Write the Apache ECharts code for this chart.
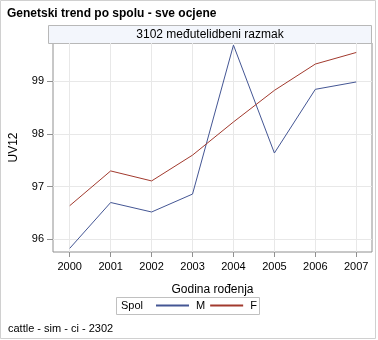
<!DOCTYPE html>
<html>
<head>
<meta charset="utf-8">
<script src="https://cdn.jsdelivr.net/npm/echarts@6/dist/echarts.min.js"></script>
<style>
html,body{margin:0;padding:0;background:#fff;}
#chart{width:378px;height:340px;}
</style>
</head>
<body>
<div id="chart"></div>
<script>
var years = [2000, 2001, 2002, 2003, 2004, 2005, 2006, 2007];
var valuesM = [95.83, 96.70, 96.52, 96.86, 99.69, 97.64, 98.85, 98.99];
var valuesF = [96.64, 97.30, 97.11, 97.60, 98.23, 98.83, 99.33, 99.55];
var yTicks = [96, 97, 98, 99];

var FONT = '"Liberation Sans", Arial, sans-serif';
function pairs(vals) { return years.map(function (y, i) { return [y, vals[i]]; }); }

var chart = echarts.init(document.getElementById('chart'), null, {renderer: 'canvas'});
chart.setOption({
  animation: false,
  backgroundColor: '#ffffff',
  color: ['#445694', '#A23A2E'],
  textStyle: {fontFamily: FONT},
  title: {
    text: 'Genetski trend po spolu - sve ocjene',
    left: 2, top: 3,
    textStyle: {fontFamily: FONT, fontSize: 12, fontWeight: 'bold', color: '#000'}
  },
  graphic: [
    {type: 'rect', shape: {x: 0.5, y: 0.5, width: 375, height: 338}, style: {fill: 'none', stroke: '#d0d0d0', lineWidth: 1}, silent: true, z: -10},
    {type: 'rect', shape: {x: 48.5, y: 25.5, width: 323, height: 18}, style: {fill: '#f3f6fc', stroke: '#b8b8b8', lineWidth: 1}, silent: true},
    {type: 'text', x: 210, y: 34.5, style: {text: '3102 međutelidbeni razmak', fontFamily: FONT, fontSize: 12, fill: '#000', align: 'center', verticalAlign: 'middle'}, silent: true},
    {type: 'rect', shape: {x: 116.5, y: 297.5, width: 143, height: 17}, style: {fill: '#fff', stroke: '#c0c0c0', lineWidth: 1}, silent: true},
    {type: 'text', x: 121, y: 306, style: {text: 'Spol', fontFamily: FONT, fontSize: 11, fill: '#000', verticalAlign: 'middle'}, silent: true},
    {type: 'text', x: 8, y: 329, style: {text: 'cattle - sim - ci - 2302', fontFamily: FONT, fontSize: 11, fill: '#000', verticalAlign: 'middle'}, silent: true}
  ],
  legend: {
    left: 156, top: 300, padding: 0,
    icon: 'rect',
    itemWidth: 33, itemHeight: 2, itemGap: 5,
    textStyle: {fontFamily: FONT, fontSize: 11, color: '#000', padding: [0, 0, 0, 2]},
    data: ['M', 'F']
  },
  grid: {left: 48, right: 6, top: 43, bottom: 88, show: true, borderColor: '#909090', borderWidth: 1, backgroundColor: '#fff'},
  xAxis: {
    type: 'value', min: 1999.591, max: 2007.385,
    name: 'Godina rođenja', nameLocation: 'middle', nameGap: 32,
    nameTextStyle: {fontFamily: FONT, fontSize: 12, color: '#000'},
    axisLine: {show: false},
    axisTick: {show: true, length: 5, lineStyle: {color: '#909090'}, customValues: years},
    axisLabel: {fontFamily: FONT, fontSize: 11, color: '#000', margin: 9, customValues: years, formatter: function (v) { return String(Math.round(v)); }},
    splitLine: {show: true, lineStyle: {color: '#e8e8e8', width: 1}}
  },
  yAxis: {
    type: 'value', min: 95.76, max: 99.73,
    name: 'UV12', nameLocation: 'middle', nameGap: 33, nameRotate: 90,
    nameTextStyle: {fontFamily: FONT, fontSize: 12, color: '#000'},
    axisLine: {show: false},
    axisTick: {show: true, length: 6, lineStyle: {color: '#909090'}, customValues: yTicks},
    axisLabel: {fontFamily: FONT, fontSize: 11, color: '#000', margin: 9, customValues: yTicks, formatter: function (v) { return String(Math.round(v)); }},
    splitLine: {show: true, lineStyle: {color: '#e8e8e8', width: 1}}
  },
  series: [
    {name: 'M', type: 'line', data: pairs(valuesM), symbol: 'none', lineStyle: {width: 1}},
    {name: 'F', type: 'line', data: pairs(valuesF), symbol: 'none', lineStyle: {width: 1}}
  ]
});
</script>
</body>
</html>
